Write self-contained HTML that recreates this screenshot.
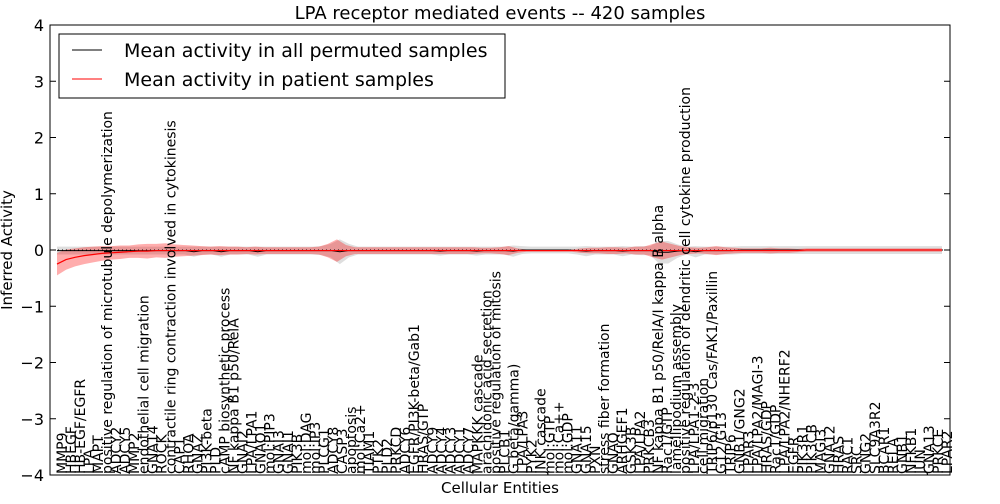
<!DOCTYPE html>
<html><head><meta charset="utf-8"><style>
body{margin:0;background:#fff;font-family:"DejaVu Sans","Liberation Sans",sans-serif}
svg text{font-family:"DejaVu Sans","Liberation Sans",sans-serif}
</style></head><body>
<svg id="c" width="1000" height="500" xmlns="http://www.w3.org/2000/svg">
<rect width="1000" height="500" fill="#fff"/>
<text x="500" y="19" font-size="18" text-anchor="middle">LPA receptor mediated events -- 420 samples</text>
<g id="plot"></g>
<rect x="50" y="25" width="900" height="450" fill="none" stroke="#000" stroke-width="1"/>
<text x="500" y="493" font-size="15" text-anchor="middle">Cellular Entities</text>
<text x="12" y="250" font-size="15" text-anchor="middle" transform="rotate(-90 12 250)">Inferred Activity</text>
<g>
<rect x="59" y="34" width="446" height="64" fill="#fff" stroke="#000"/>
<line x1="72" y1="50" x2="102" y2="50" stroke="#000"/>
<text x="124" y="57" font-size="19">Mean activity in all permuted samples</text>
<line x1="72" y1="79" x2="102" y2="79" stroke="#f00"/>
<text x="124" y="86" font-size="19">Mean activity in patient samples</text>
</g>
</svg>
<script>
const labels=["MMP9","HBEGF","HB-EGF/EGFR","LPA","MAPT","positive regulation of microtubule depolymerization","ADCY2","ADCY5","MMP2","endothelial cell migration","GNA14","ROCK","contractile ring contraction involved in cytokinesis","CAP1","RHOA","GNAZ","PI3K-beta","PLD","cAMP biosynthetic process","NF kappa B1 p50/RelA","GNAI2","LPA/LPA1","GNAO1","mol:PIP3","GNAI3","GNAI1","PIK3B","mol:DAG","mol:IP3","PLCG1","ADCY8","CASP3","apoptosis","mol:Ca2+","TIAM1","PTK2","PLD2","PRKCD","ADCY6","EGFR/PI3K-beta/Gab1","HRAS/GTP","ADCY9","ADCY4","ADCY3","ADCY1","ADCY7","MAPKKK cascade","arachidonic acid secretion","positive regulation of mitosis","PLCB1","G beta/gamma)","LPA/LPA3","PYK2","JNK cascade","mol:GTP","mol:Ca++","mol:GDP","GNA11","GNA15","PXN","stress fiber formation","GNAQ","ARHGEF1","GSK3B","LPA/LPA2","PRKCB3","NF kappa B1 p50/RelA/I kappa B alpha","Rac1/GTP","lamellipodium assembly","positive regulation of dendritic cell cytokine production","LPA/LPA1-2-3","cell migration","TRIP6/p130 Cas/FAK1/Paxillin","G12/G13","TRIP6","GNB1/GNG2","LPAR3","LPA/LPA2/MAGI-3","HRAS/GDP","Rac1/GDP","LPA/LPA2/NHERF2","EGFR","PIK3R1","PIK3CB","MAGI3","GNA12","HRAS","RAC1","SRC","GNG2","SLC9A3R2","BCAR1","RELA","GNB1","NFKB1","JUN","GNA13","PRKCE","LPAR2"];
const redMean=[-0.25,-0.17,-0.13,-0.1,-0.08,-0.06,-0.05,-0.04,-0.03,-0.02,-0.02,-0.01,-0.01,-0.01,-0.01,-0.01,-0.01,-0.01,-0.01,-0.01,-0.01,-0.01,-0.01,-0.01,-0.01,-0.01,-0.01,-0.01,-0.01,-0.01,-0.01,-0.01,-0.01,-0.01,-0.01,-0.01,-0.01,-0.01,-0.01,-0.01,-0.01,-0.01,-0.01,-0.01,-0.01,-0.01,-0.01,-0.01,-0.01,-0.01,-0.01,-0.01,-0.01,-0.01,-0.01,-0.01,-0.01,-0.01,-0.01,-0.01,-0.01,-0.01,-0.01,-0.01,-0.01,-0.01,-0.01,-0.01,-0.01,-0.01,-0.01,-0.01,-0.01,-0.01,-0.01,-0.01,-0.01,-0.01,-0.01,-0.01,-0.01,-0.01,-0.01,0,0,0,0,0,0,0,0,0,0,0,0,0,0,0,0];
const redSpread=[0.2,0.18,0.16,0.15,0.14,0.13,0.12,0.12,0.11,0.12,0.13,0.12,0.13,0.11,0.1,0.09,0.08,0.07,0.08,0.07,0.07,0.06,0.07,0.06,0.06,0.06,0.06,0.06,0.06,0.07,0.12,0.2,0.1,0.06,0.06,0.06,0.06,0.06,0.06,0.06,0.06,0.06,0.06,0.06,0.06,0.06,0.06,0.05,0.05,0.06,0.08,0.04,0.02,0.02,0.02,0.02,0.02,0.02,0.04,0.05,0.05,0.06,0.06,0.05,0.07,0.07,0.12,0.16,0.12,0.08,0.06,0.05,0.06,0.08,0.06,0.05,0.04,0.04,0.04,0.05,0.04,0.04,0.03,0.03,0.03,0.03,0.03,0.03,0.03,0.03,0.03,0.03,0.03,0.03,0.03,0.03,0.03,0.03];
const greyMean=[-0.01,-0.01,-0.01,-0.01,-0.01,-0.01,-0.01,-0.01,-0.01,-0.01,-0.01,-0.01,-0.01,-0.01,-0.01,-0.03,-0.01,-0.01,-0.03,-0.01,-0.01,-0.01,-0.03,-0.01,-0.01,-0.01,-0.01,-0.01,-0.01,-0.01,-0.01,-0.03,-0.01,-0.01,-0.01,-0.01,-0.01,-0.01,-0.01,-0.01,-0.01,-0.01,-0.02,-0.01,-0.01,-0.01,-0.02,-0.01,-0.01,-0.01,-0.02,0,0,0,0,0,0,-0.01,-0.02,-0.01,-0.01,-0.01,-0.02,-0.01,-0.01,-0.01,-0.04,-0.04,-0.02,-0.01,-0.03,-0.01,-0.01,-0.01,-0.01,0,0,0,0,0,0,0,0,0,0,0,0,0,0,0,0,0,0,0,0,0,0,0];
const greySpread=[0.07,0.07,0.07,0.07,0.07,0.07,0.07,0.07,0.07,0.07,0.07,0.07,0.07,0.07,0.07,0.09,0.07,0.07,0.09,0.07,0.07,0.07,0.09,0.07,0.07,0.07,0.07,0.07,0.07,0.08,0.12,0.22,0.12,0.07,0.07,0.07,0.07,0.07,0.07,0.07,0.07,0.07,0.08,0.07,0.07,0.07,0.08,0.07,0.07,0.07,0.1,0.07,0.06,0.06,0.06,0.06,0.06,0.07,0.09,0.07,0.07,0.07,0.09,0.07,0.08,0.08,0.2,0.2,0.12,0.07,0.1,0.07,0.07,0.07,0.07,0.07,0.07,0.07,0.07,0.07,0.07,0.07,0.07,0.07,0.07,0.07,0.07,0.07,0.07,0.07,0.07,0.07,0.07,0.07,0.07,0.07,0.07,0.07];
const yTicks=[4,3,2,1,0,-1,-2,-3,-4];
const N=labels.length;
const X=(i,n)=>57+i*(942-57)/(n-1);
const Y=v=>250-v*56.25;
const NS="http://www.w3.org/2000/svg";
const plot=document.getElementById('plot');
function mk(tag,attrs){const e=document.createElementNS(NS,tag);for(const k in attrs)e.setAttribute(k,attrs[k]);plot.appendChild(e);return e;}
function val(a,i){return a[Math.min(i,a.length-1)]||0;}
function band(mean,sp,fill,op){const n=mean.length;let up=[],dn=[];for(let i=0;i<n;i++){const m=val(mean,i),s=val(sp,i);up.push(X(i,n)+','+Y(m+s));dn.unshift(X(i,n)+','+Y(m-s));}return mk('polygon',{points:up.concat(dn).join(' '),fill:fill,'fill-opacity':op});}
function line(mean){const n=mean.length;return mean.map((v,i)=>X(i,n)+','+Y(v)).join(' ');}
const gb=band(greyMean,greySpread,'#cccccc',0.65);


const rb=band(redMean,redSpread,'#f00',0.32);


const dots=mk('line',{x1:50,y1:250,x2:950,y2:250,stroke:'#000','stroke-dasharray':'1,3','stroke-width':1});


const gl=mk('polyline',{points:line(greyMean),fill:'none',stroke:'#000','stroke-width':1});


const rl=mk('polyline',{points:line(redMean),fill:'none',stroke:'#f00','stroke-width':1.2});


yTicks.forEach(t=>{
 const tk=mk('line',{x1:50,y1:Y(t),x2:56,y2:Y(t),stroke:'#000'});
 
 
 const tk2=mk('line',{x1:944,y1:Y(t),x2:950,y2:Y(t),stroke:'#000'});
 
 
 const tl=mk('text',{x:44,y:Y(t)+6,'font-size':16,'text-anchor':'end'});
 tl.textContent=(t<0?'\u2212'+(-t):t);
 
 
});
labels.forEach((l,i)=>{
 const x=X(i,N)+10;
 const t=mk('text',{x:x,y:474,'font-size':14,transform:`rotate(-90 ${x} 474)`});
 t.textContent=l;
 
 
});
</script>
</body></html>
